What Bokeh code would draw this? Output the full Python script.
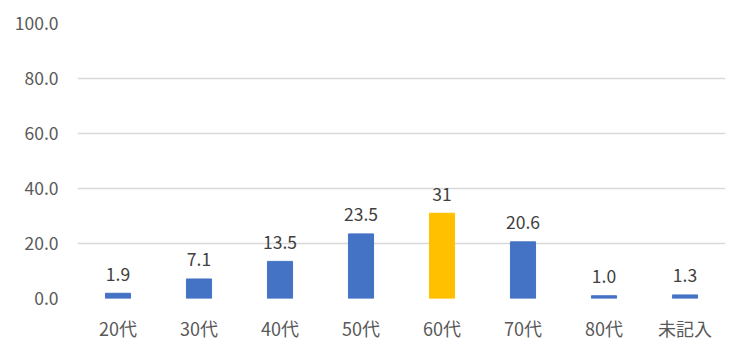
from bokeh.plotting import figure
from bokeh.models import ColumnDataSource, Range1d, FixedTicker, CustomJSTickFormatter
from bokeh.core.properties import value
from bokeh.embed import file_html
from bokeh.resources import INLINE

categories = ["20代", "30代", "40代", "50代", "60代", "70代", "80代", "未記入"]
values = [1.9, 7.1, 13.5, 23.5, 31, 20.6, 1.0, 1.3]
labels = ["1.9", "7.1", "13.5", "23.5", "31", "20.6", "1.0", "1.3"]
colors = ["#4472C4", "#4472C4", "#4472C4", "#4472C4", "#FFC000", "#4472C4", "#4472C4", "#4472C4"]
y_ticks = [0, 20, 40, 60, 80, 100]

FONT = "Noto Sans CJK JP"

src = ColumnDataSource(dict(cat=categories, val=values, lab=labels, col=colors))

p = figure(x_range=categories, y_range=Range1d(0, 100), width=750, height=358,
           output_backend="svg", toolbar_location=None,
           min_border_left=77, min_border_right=25, min_border_top=23, min_border_bottom=60)
p.outline_line_color = None
p.background_fill_color = "white"
p.border_fill_color = "white"

p.vbar(x="cat", top="val", width=0.31, color="col", source=src)
p.text(x="cat", y="val", text="lab", source=src, text_align="center", text_baseline="alphabetic",
       y_offset=-19, text_font=value(FONT), text_font_size="17.5px", text_color="#404040")

p.yaxis.ticker = FixedTicker(ticks=y_ticks)
p.yaxis.formatter = CustomJSTickFormatter(code="return tick.toFixed(1);")
for ax in (p.xaxis, p.yaxis):
    ax.axis_line_color = None
    ax.major_tick_line_color = None
    ax.minor_tick_line_color = None
    ax.major_label_text_font = FONT
    ax.major_label_text_color = "#595959"
p.yaxis.major_label_text_font_size = "17.5px"
p.xaxis.major_label_text_font_size = "18px"
p.yaxis.major_label_standoff = 13
p.xaxis.major_label_standoff = 10

p.xgrid.grid_line_color = None
p.ygrid.grid_line_color = "#D9D9D9"
p.ygrid.grid_line_width = 1.3
p.ygrid.ticker = FixedTicker(ticks=y_ticks)

open("out.html", "w").write(file_html(p, INLINE))
